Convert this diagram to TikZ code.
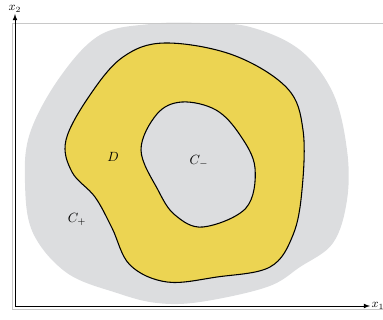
\documentclass[tikz,border=0pt]{standalone}
\usepackage{amsmath}
\usetikzlibrary{arrows,calc,positioning}

\definecolor{blobgray}{HTML}{DCDDDF}
\definecolor{ringyellow}{HTML}{ECD452}
\definecolor{framegray}{HTML}{C8C8C8}

\begin{document}
\begin{tikzpicture}[
  x=0.75pt, y=-0.75pt,
  region/.style={smooth cycle, tension=0.6},
  axis/.style={-latex, semithick},
  lbl/.style={inner sep=1pt},
]
\useasboundingbox (0,0) rectangle (383,320);

% outer set C_+
\fill[blobgray] plot[region] coordinates {
  (100,35) (150,24) (200,23) (250,27) (300,50) (333,93) (347,150)
  (347,200) (333,243) (300,267) (267,287) (200,302) (157,303)
  (117,293) (67,273) (33,233) (25,183) (30,133) (60,77)};

% frame
\draw[framegray, thin] (383,23) -- (12,23) -- (12,309) -- (383,309);

% ring D
\draw[thick, fill=ringyellow] plot[region] coordinates {
  (66,140) (90,95) (123,57) (165,43) (233,55) (287,88) (303,130)
  (302,190) (293,235) (270,267) (217,277) (167,282) (130,265)
  (112,228) (95,197) (72,172)};

% hole C_-
\draw[thick, fill=blobgray] plot[region] coordinates {
  (141,150) (157,114) (182,102) (216,110) (240,135) (255,168)
  (246,208) (203,227) (175,215) (158,190)};

\node[lbl] (D) at (113,157) {$D$};
\node[lbl] (Cminus) at (199,162) {$C_-$};
\node[lbl] (Cplus) at (77,220) {$C_+$};

% axes
\coordinate (O) at (15,306);
\coordinate (E1) at (370,306);
\coordinate (E2) at (15,14);
\draw[axis] (O) -- (E1) node[right, lbl, font=\small] (x1) {$x_1$};
\draw[axis] (O) -- (E2) node[above, lbl, font=\small] (x2) {$x_2$};
\end{tikzpicture}
\end{document}
